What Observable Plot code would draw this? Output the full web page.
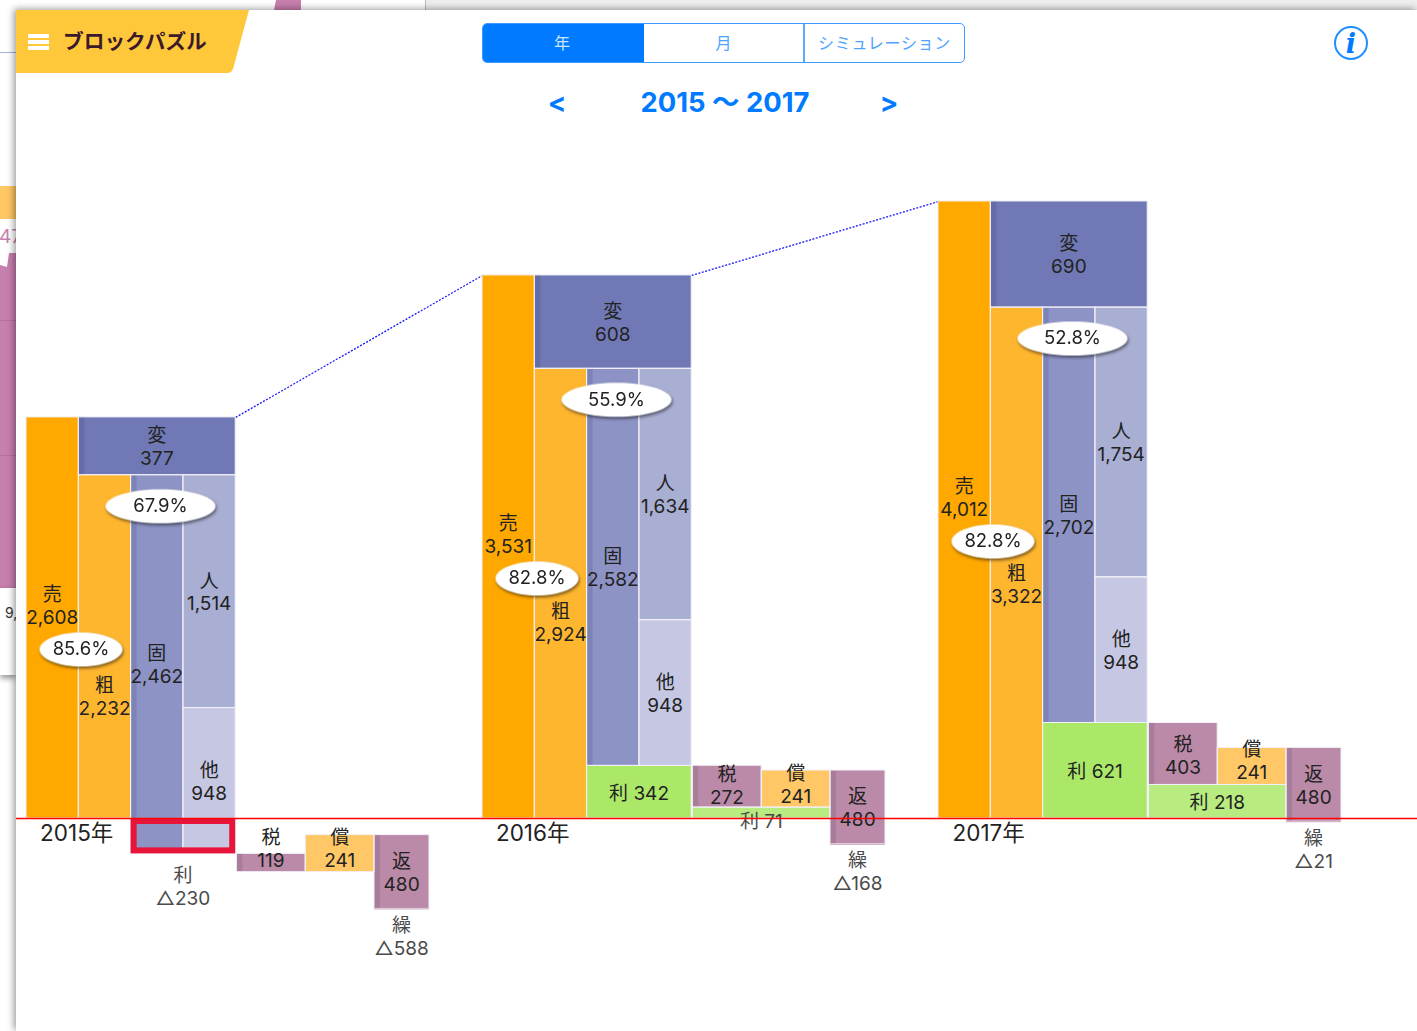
<!DOCTYPE html>
<html lang="ja">
<head>
<meta charset="utf-8">
<title>ブロックパズル</title>
<script src="https://cdn.jsdelivr.net/npm/d3@7"></script>
<script src="https://cdn.jsdelivr.net/npm/@observablehq/plot@0.6"></script>
<style>
  html, body { margin: 0; padding: 0; background: #fff; overflow: hidden; width: 1417px; height: 1031px; position: relative;
    font-family: Inter, "Noto Sans CJK JP", sans-serif; }
  .abs { position: absolute; }
  #panel { left: 16px; top: 10px; width: 1401px; height: 1021px; background: #fff; box-shadow: -2px -1px 7px rgba(0,0,0,.4); }
  #tab { left: 16px; top: 10px; width: 233px; height: 63px; background: #ffc73a;
    clip-path: polygon(0 0, 100% 0, 217px 59px, 215px 62px, 212px 63px, 0 63px); }
  .bar { left: 28px; width: 21px; height: 3.5px; background: #fff; }
  #appTitle { left: 63px; top: 25px; font: 700 20.7px/30px "Noto Sans CJK JP"; color: #3a1a2a; white-space: nowrap; }
  #seg { left: 482px; top: 23px; width: 481px; height: 38px; border: 1.5px solid #3d9bff; border-radius: 5px; display: flex; overflow: hidden; background: #fff; }
  #seg div { flex: 0 0 161px; box-sizing: border-box; text-align: center; font: 400 16px/37px "Noto Sans CJK JP"; color: #4da3ff; border-right: 2px solid #5aaaff; }
  #seg div:first-child { background: #007aff; color: #cfe4ff; border-right: 0; padding-right: 3px; }
  #seg div:last-child { border-right: 0; flex: 1; letter-spacing: .7px; }
  .nav { font: 700 27.4px/36px Inter, "Noto Sans CJK JP"; color: #007aff; white-space: nowrap; transform: translateX(-50%); }
</style>
</head>
<body>
<!-- window behind the panel -->
<div class="abs" style="left:0;top:0;width:425px;height:10px;background:#fff;border-right:1px solid #bbb"></div>
<div class="abs" style="left:426px;top:0;width:991px;height:10px;background:#eee"></div>
<div class="abs" style="left:274px;top:0;width:27px;height:10px;background:#c77fae;clip-path:polygon(2px 0,100% 0,100% 100%,0 100%)"></div>
<div class="abs" style="left:0;top:52px;width:16px;height:1px;background:#9db4dc"></div>
<div class="abs" style="left:0;top:186px;width:16px;height:33px;background:#ffc765"></div>
<div class="abs" style="left:-1px;top:225px;font:400 19px/24px Inter;color:#c77fae;width:17px;overflow:hidden;white-space:nowrap">47</div>
<div class="abs" style="left:0;top:253px;width:16px;height:335px;background:#c77fae;clip-path:polygon(9px 0,100% 0,100% 100%,0 100%,0 12px,7px 14px)"></div>
<div class="abs" style="left:0;top:320px;width:16px;height:1px;background:#b570a0"></div>
<div class="abs" style="left:0;top:455px;width:16px;height:1px;background:#b570a0"></div>
<div class="abs" style="left:0;top:588px;width:16px;height:87px;background:#fff;box-shadow:0 3px 6px rgba(0,0,0,.45)"></div>
<div class="abs" style="left:5px;top:604px;font:400 14px/18px Inter;color:#333;width:11px;overflow:hidden;white-space:nowrap">9,</div>

<div id="panel" class="abs"></div>
<div id="chart" class="abs" style="left:0;top:0"></div>

<div id="tab" class="abs"></div>
<div class="abs bar" style="top:34px"></div>
<div class="abs bar" style="top:40px"></div>
<div class="abs bar" style="top:46px"></div>
<div id="appTitle" class="abs">ブロックパズル</div>
<div id="seg" class="abs"><div>年</div><div>月</div><div>シミュレーション</div></div>
<div class="abs nav" style="left:557px;top:84px">&lt;</div>
<div class="abs nav" style="left:725px;top:84px">2015 〜 2017</div>
<div class="abs nav" style="left:889px;top:84px">&gt;</div>
<svg class="abs" style="left:1333px;top:25px" width="36" height="36" viewBox="0 0 36 36">
  <circle cx="18" cy="18" r="16" fill="#fff" stroke="#1e90ff" stroke-width="2"/>
  <text x="18" y="28" text-anchor="middle" font-family="DejaVu Serif" font-weight="700" font-style="italic" font-size="27" fill="#007aff">i</text>
</svg>

<script>
// ---- values ----
const years = [2015, 2016, 2017];
const sales = [2608, 3531, 4012];
const variableCost = [377, 608, 690];
const grossProfit = [2232, 2924, 3322];
const fixedCost = [2462, 2582, 2702];
const labor = [1514, 1634, 1754];
const other = [948, 948, 948];
const profit = [-230, 342, 621];
const tax = [119, 272, 403];
const netProfit = [-349, 71, 218];
const depreciation = [241, 241, 241];
const repayment = [480, 480, 480];
const carryover = [-588, -168, -21];
const grossRate = ["85.6%", "82.8%", "82.8%"];
const laborRate = ["67.9%", "55.9%", "52.8%"];
const grossBubbleLevel = [1099, 1560, 1801];

// ---- layout and style (px) ----
const W = 1417, H = 1031, BASE = 818, K = 0.1538;
const START = [26, 482, 938], U = 52.3, TAXW = 68.8, REPW = 55, GAP = 1.2;
const STRIP = 6;
const salesShift = -13, grossShift = [49.5, 28.5, 21], taxShift = [-14.5, -2, 1.5], depShift = [-5.5, -4.5, -6];
const C = { sales: "#ffa800", gross: "#ffb62f", variable: "#7079b5", fixed: "#8d94c5", labor: "#a9aed3", other: "#c6c8e3",
  profit: "#abe868", net: "#b8eb80", tax: "#bb8aa8", dep: "#ffc766", rep: "#bb8aa8",
  dVariable: "#666ca7", dFixed: "#7d84b5", dTax: "#a87d9b" };
const FONT = 'Inter, "Noto Sans CJK JP", sans-serif';
const TEXT = "#222", MUTED = "#4a4a4a";
const fmt = d3.format(",");
const tri = v => "△" + fmt(Math.abs(v));
const px = p => p / K;   // pixel shift expressed in value units

const blocks = [], strips = [], labels = [];
function block(x1, x2, y1, y2, fill, strip, name, text, shift = 0, color = TEXT) {
  blocks.push({ x1, x2, y1, y2, fill });
  if (strip) strips.push({ x1, x2: x1 + STRIP, y1, y2, fill: strip });
  if (name) labels.push({ x: (x1 + x2) / 2, y: (y1 + y2) / 2 - px(shift), text: name + text, color });
}
years.forEach((yr, i) => {
  const s = START[i];
  const xa = s + U, xb = s + 2 * U, xc = s + 3 * U, xd = s + 4 * U;
  const p = profit[i], g = grossProfit[i];
  const laborBottom = g - labor[i];
  block(s, xa, 0, sales[i], C.sales, null, "売", "\n" + fmt(sales[i]), salesShift);
  block(xa, xd, g, sales[i], C.variable, C.dVariable, "変", "\n" + fmt(variableCost[i]));
  block(xa, xb, 0, g, C.gross, null, "粗", "\n" + fmt(g), grossShift[i]);
  block(xb, xc, p, g, C.fixed, C.dFixed, "固", "\n" + fmt(fixedCost[i]));
  block(xc, xd, laborBottom, g, C.labor, null, "人", "\n" + fmt(labor[i]));
  block(xc, xd, p, laborBottom, C.other, null, "他", "\n" + fmt(other[i]));
  if (p > 0) block(xb, xd, 0, p, C.profit, null, "利", " " + fmt(p));
  // cascade on the right
  const n = netProfit[i];
  const x0 = xd + GAP, x1 = x0 + TAXW, x2 = x1 + TAXW, x3 = x2 + REPW;
  block(x0, x1, n, n + tax[i], C.tax, C.dTax, "税", "\n" + fmt(tax[i]), taxShift[i]);
  block(x1, x2, n, n + depreciation[i], C.dep, null, "償", "\n" + fmt(depreciation[i]), depShift[i]);
  block(x2, x3, n + depreciation[i] - repayment[i], n + depreciation[i], C.rep, C.dTax, "返", "\n" + fmt(repayment[i]));
  if (n > 0) block(x0, x2, 0, n, C.net, null, "利", " " + fmt(n), n < 100 ? 7.5 : 0, n < 100 ? MUTED : TEXT);
  labels.push({ x: x2 + REPW / 2, y: carryover[i] - px(27), text: "繰\n" + tri(carryover[i]), color: MUTED });
  if (p < 0) labels.push({ x: (xb + xd) / 2, y: p - px(32.5), text: "利\n" + tri(p), color: MUTED });
});

const carryLines = years.map((y, i) => {
  const s = START[i] + 4 * U + GAP + 2 * TAXW;
  return { x1: s, x2: s + REPW, y: carryover[i] };
});
const lossBox = [{ x1: START[0] + 2 * U, x2: START[0] + 4 * U, y1: 0, y2: profit[0] }];
const links = years.slice(1).map((y, i) => [
  { x: START[i] + 4 * U, y: sales[i], k: i }, { x: START[i + 1], y: sales[i + 1], k: i }
]).flat();
const yearLabels = years.map((y, i) => ({ x: START[i] + 50.2, y: -px(15), text: y + "年" }));
const wideBubbles = years.map((y, i) => ({ x: START[i] + 134, y: grossProfit[i] - px(31), text: laborRate[i] }));
const narrowBubbles = years.map((y, i) => ({ x: START[i] + 54.5, y: grossBubbleLevel[i], text: grossRate[i] }));

const ellipse = (rx, ry) => ({
  draw(c) {
    const m = 0.5523;
    c.moveTo(-rx, 0);
    c.bezierCurveTo(-rx, -ry * m, -rx * m, -ry, 0, -ry);
    c.bezierCurveTo(rx * m, -ry, rx, -ry * m, rx, 0);
    c.bezierCurveTo(rx, ry * m, rx * m, ry, 0, ry);
    c.bezierCurveTo(-rx * m, ry, -rx, ry * m, -rx, 0);
    c.closePath();
  }
});
const SHADOW = "drop-shadow(1px 2px 1.5px rgba(0,0,0,.5))";
const DX = -0.4;

const chart = Plot.plot({
  width: W, height: H, margin: 0,
  x: { domain: [0, W], range: [0, W], axis: null },
  y: { domain: [(BASE - H) / K, BASE / K], range: [H, 0], axis: null },
  style: { background: "transparent", fontFamily: FONT, overflow: "visible" },
  marks: [
    Plot.line(links, { x: "x", y: "y", z: "k", stroke: "#1a1aff", strokeWidth: 1.3, strokeDasharray: "2 1.5", strokeLinecap: "butt" }),
    Plot.rect(blocks, { x1: "x1", x2: "x2", y1: "y1", y2: "y2", fill: "fill" }),
    Plot.rect(strips, { x1: "x1", x2: "x2", y1: "y1", y2: "y2", fill: "fill" }),
    Plot.rect(blocks, { x1: "x1", x2: "x2", y1: "y1", y2: "y2", fill: "none", stroke: "#f2f0f8", strokeWidth: 1 }),
    Plot.rect(lossBox, { x1: "x1", x2: "x2", y1: "y1", y2: "y2", fill: "none", stroke: "#e8153a", strokeWidth: 6, inset: 3 }),
    Plot.ruleY(carryLines, { x1: "x1", x2: "x2", y: "y", stroke: "#c9a9bd", strokeWidth: 1 }),
    Plot.text(labels.filter(d => d.color === TEXT), { x: "x", y: "y", text: "text", fill: TEXT, fontSize: 19, lineHeight: 1.21, lineAnchor: "middle", dx: DX }),
    Plot.text(labels.filter(d => d.color === MUTED), { x: "x", y: "y", text: "text", fill: MUTED, fontSize: 19, lineHeight: 1.21, lineAnchor: "middle", dx: DX }),
    Plot.dot(wideBubbles, { x: "x", y: "y", r: 10, symbol: ellipse(55, 17), fill: "#fff", imageFilter: SHADOW }),
    Plot.dot(narrowBubbles, { x: "x", y: "y", r: 10, symbol: ellipse(41.5, 17), fill: "#fff", imageFilter: SHADOW }),
    Plot.text(wideBubbles, { x: "x", y: "y", text: "text", fill: TEXT, fontSize: 18.5 }),
    Plot.text(narrowBubbles, { x: "x", y: "y", text: "text", fill: TEXT, fontSize: 18.5 }),
    Plot.text(yearLabels, { x: "x", y: "y", text: "text", fill: TEXT, fontSize: 22.5 }),
    Plot.ruleY([0], { x1: 16, x2: W, stroke: "#ff0000", strokeWidth: 1.5 })
  ]
});
document.getElementById("chart").append(chart);
</script>
</body>
</html>
